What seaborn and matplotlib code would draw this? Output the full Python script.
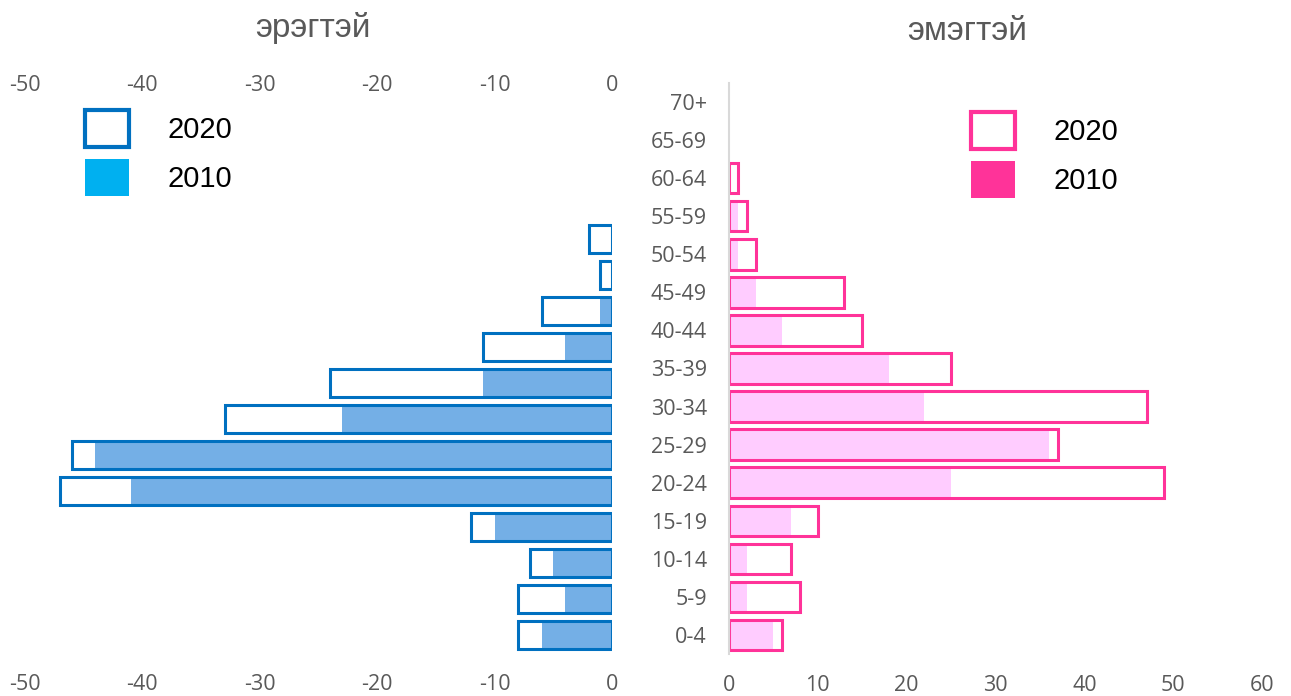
import numpy as np
import pandas as pd
import seaborn as sns
import matplotlib.pyplot as plt
from matplotlib.patches import Patch

# age groups, bottom to top
ages = ["0-4", "5-9", "10-14", "15-19", "20-24", "25-29", "30-34", "35-39",
        "40-44", "45-49", "50-54", "55-59", "60-64", "65-69", "70+"]

male_2020 = [8, 8, 7, 12, 47, 46, 33, 24, 11, 6, 1, 2, 0, 0, 0]
male_2010 = [6, 4, 5, 10, 41, 44, 23, 11, 4, 1, 0, 0, 0, 0, 0]
female_2020 = [6, 8, 7, 10, 49, 37, 47, 25, 15, 13, 3, 2, 1, 0, 0]
female_2010 = [5, 2, 2, 7, 25, 36, 22, 18, 6, 3, 1, 1, 0, 0, 0]

male_ticks = [-50, -40, -30, -20, -10, 0]
female_ticks = [0, 10, 20, 30, 40, 50, 60]

order = ages[::-1]  # 70+ on top


def frame(vals, sign=1):
    df = pd.DataFrame({"age": ages, "value": [sign * v for v in vals]})
    return df[df["value"] != 0]


sns.set_style("white")
plt.rcParams["font.family"] = ["Open Sans", "DejaVu Sans"]

W, H = 1291, 696
fig = plt.figure(figsize=(W / 100, H / 100), dpi=100)
gray = "#595959"
tick_fs = 15.5

# ---- male (left) ----
axm = fig.add_axes([25 / W, (H - 653) / H, 587 / W, 540 / H])
sns.barplot(data=frame(male_2010, -1), x="value", y="age", order=order, orient="y",
            color="#74AFE6", saturation=1, linewidth=0, width=0.8, ax=axm)
sns.barplot(data=frame(male_2020, -1), x="value", y="age", order=order, orient="y",
            color="#0070C0", saturation=1, fill=False, linewidth=2.2, width=0.8, ax=axm)
axm.set_xlim(-50, 0)
axm.set_xticks(male_ticks)
axm.set_xticklabels([str(t) for t in male_ticks])
axm.set_yticks([])
axm.set_xlabel("")
axm.set_ylabel("")
axm.tick_params(axis="x", length=0, pad=15, labelsize=tick_fs, labelcolor=gray)
for s in axm.spines.values():
    s.set_visible(False)

top = axm.secondary_xaxis("top")
top.set_xticks(male_ticks)
top.set_xticklabels([str(t) for t in male_ticks])
top.tick_params(axis="x", length=0, pad=12, labelsize=tick_fs, labelcolor=gray)
for s in top.spines.values():
    s.set_visible(False)

# ---- female (right) ----
axf = fig.add_axes([729 / W, (H - 654) / H, 533 / W, 571 / H])
sns.barplot(data=frame(female_2010), x="value", y="age", order=order, orient="y",
            color="#FFCCFF", saturation=1, linewidth=0, width=0.8, ax=axf)
sns.barplot(data=frame(female_2020), x="value", y="age", order=order, orient="y",
            color="#FF3399", saturation=1, fill=False, linewidth=2.2, width=0.8, ax=axf)
axf.set_xlim(0, 60)
axf.set_xticks(female_ticks)
axf.set_xlabel("")
axf.set_ylabel("")
axf.tick_params(axis="x", length=0, pad=15, labelsize=tick_fs, labelcolor=gray)
axf.tick_params(axis="y", length=0, pad=16, labelsize=tick_fs, labelcolor=gray)
for s in axf.spines.values():
    s.set_visible(False)
axf.spines["left"].set_visible(True)
axf.spines["left"].set_color("#D9D9D9")
axf.spines["left"].set_linewidth(1.5)

# ---- titles ----
title_kw = dict(ha="center", va="center", fontsize=24, color=gray,
                family=["Liberation Sans", "DejaVu Sans"])
fig.text(313 / W, 1 - 28 / H, "эрэгтэй", **title_kw)
fig.text(967 / W, 1 - 32 / H, "эмэгтэй", **title_kw)

# ---- legends ----
leg_kw = dict(loc="upper left", frameon=False, borderpad=0, borderaxespad=0,
              handlelength=1.5, handleheight=1.57, handletextpad=1.34, labelspacing=0.42,
              prop={"family": "Liberation Sans", "size": 21}, labelcolor="black")
fig.legend(handles=[Patch(facecolor="white", edgecolor="#0070C0", linewidth=3),
                    Patch(facecolor="#00B0F0", linewidth=0)],
           labels=["2020", "2010"], bbox_to_anchor=(85 / W, 1 - 110 / H), **leg_kw)
fig.legend(handles=[Patch(facecolor="white", edgecolor="#FF3399", linewidth=3),
                    Patch(facecolor="#FF3399", linewidth=0)],
           labels=["2020", "2010"], bbox_to_anchor=(971 / W, 1 - 112 / H), **leg_kw)

plt.savefig("out.png", dpi=100)
